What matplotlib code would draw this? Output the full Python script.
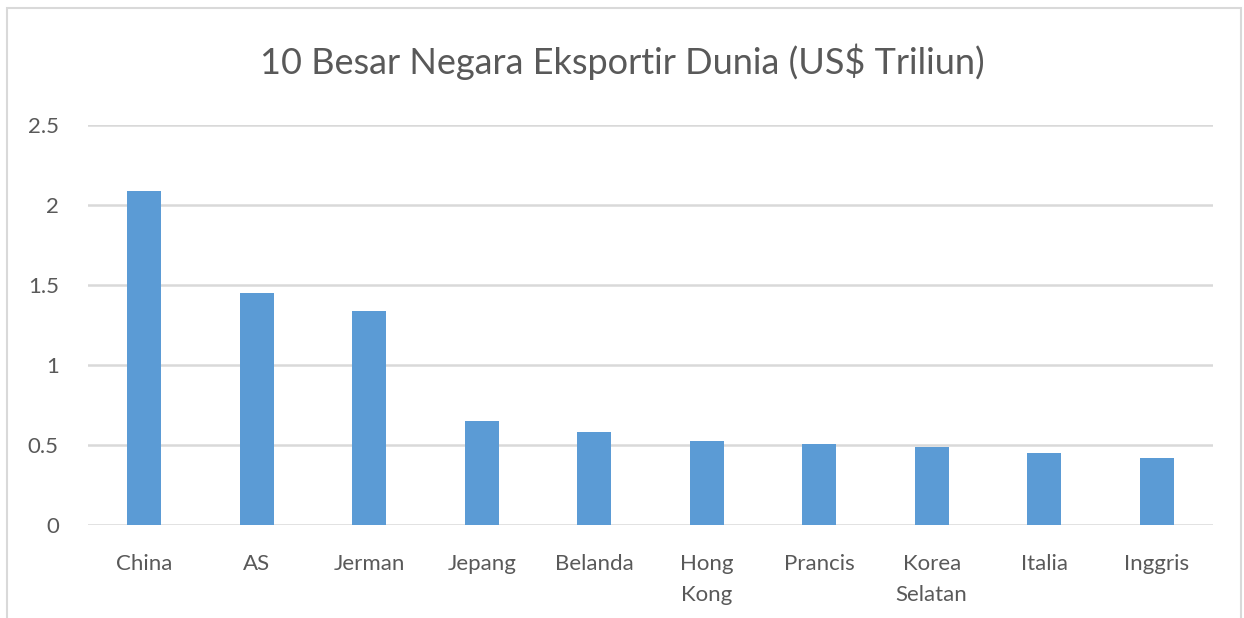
import matplotlib.pyplot as plt
from matplotlib.patches import Rectangle
import numpy as np

# nilai ekspor (US$ triliun)
negara = ["China", "AS", "Jerman", "Jepang", "Belanda", "Hong\nKong",
          "Prancis", "Korea\nSelatan", "Italia", "Inggris"]
ekspor = [2.09, 1.45, 1.34, 0.65, 0.58, 0.527, 0.505, 0.49, 0.452, 0.417]
yticks = [0, 0.5, 1, 1.5, 2, 2.5]
ylabels = ["0", "0.5", "1", "1.5", "2", "2.5"]

BAR = "#5b9bd5"
GRID = "#d9d9d9"
TEXT = "#595959"

plt.rcParams["font.family"] = ["Lato", "DejaVu Sans"]

fig = plt.figure(figsize=(12.44, 6.18), dpi=100)
ax = fig.add_axes([0.0707, 0.1505, 0.9043, 0.6472])

x = np.arange(len(negara))
ax.bar(x, ekspor, width=0.3, color=BAR, zorder=3)

ax.set_xlim(-0.5, len(negara) - 0.5)
ax.set_ylim(0, 2.5)
ax.set_yticks(yticks, ylabels)
ax.set_xticks(x, negara)
for lbl in ax.get_xticklabels():
    lbl.set_linespacing(1.65)
    lbl.set_verticalalignment("top")

ax.yaxis.grid(True, color=GRID, linewidth=1.8, zorder=0)
for s in ax.spines.values():
    s.set_visible(False)
ax.tick_params(axis="both", length=0, colors=TEXT, labelsize=16)
ax.tick_params(axis="y", pad=21)
ax.tick_params(axis="x", pad=21)

fig.text(0.5, 1 - 62 / 618, "10 Besar Negara Eksportir Dunia (US$ Triliun)",
         ha="center", va="center", fontsize=26, color=TEXT)

# bingkai luar
fig.patches.append(Rectangle((7 / 1244, -0.05), 1234 / 1244, 1.05 - 8 / 618,
                             transform=fig.transFigure, fill=False,
                             edgecolor=GRID, linewidth=1.5))

fig.savefig("out.png", dpi=100)
